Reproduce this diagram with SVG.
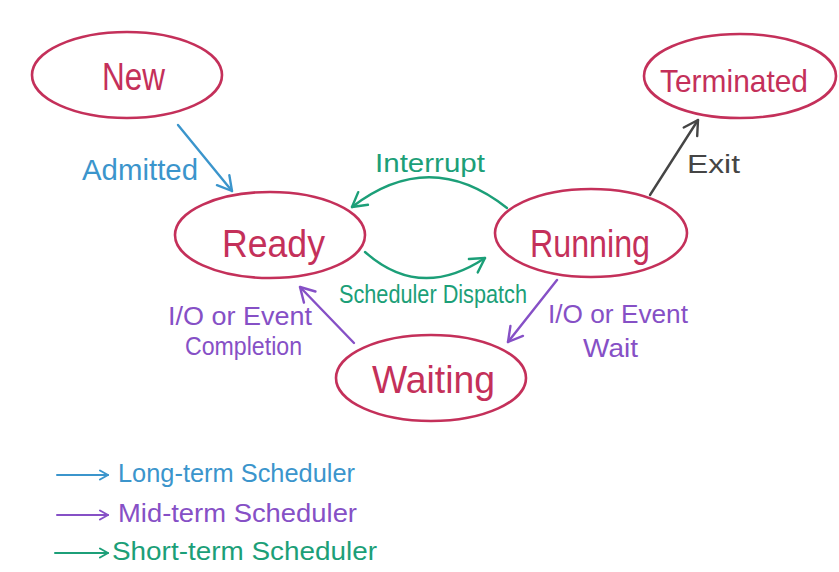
<svg xmlns="http://www.w3.org/2000/svg" width="839" height="572" viewBox="0 0 839 572">
<style>
text{font-family:"Liberation Sans","Open Sans",Arial,sans-serif}
.st{fill:none;stroke:#c4305a;stroke-width:2.6}
.sl{fill:#c4305a;font-size:38px}
.c{fill:none;stroke-width:2.4;stroke-linecap:round}
.blue{stroke:#3b95cc}.purple{stroke:#8650c6}.green{stroke:#1c9f78}.gray{stroke:#454545}
.tb{fill:#3b95cc}.tp{fill:#8650c6}.tg{fill:#1c9f78}.tk{fill:#454545}
.lab{font-size:26px}
</style>
<defs>
<marker id="ab" viewBox="0 0 20 20" refX="18" refY="10" markerWidth="20" markerHeight="20" markerUnits="userSpaceOnUse" orient="auto"><path d="M4,2 L18,10 L4,18" fill="none" stroke="#3b95cc" stroke-width="2.4" stroke-linecap="round" stroke-linejoin="round"/></marker>
<marker id="ap" viewBox="0 0 20 20" refX="18" refY="10" markerWidth="20" markerHeight="20" markerUnits="userSpaceOnUse" orient="auto"><path d="M4,2 L18,10 L4,18" fill="none" stroke="#8650c6" stroke-width="2.4" stroke-linecap="round" stroke-linejoin="round"/></marker>
<marker id="ag" viewBox="0 0 20 20" refX="18" refY="10" markerWidth="20" markerHeight="20" markerUnits="userSpaceOnUse" orient="auto"><path d="M4,2 L18,10 L4,18" fill="none" stroke="#1c9f78" stroke-width="2.4" stroke-linecap="round" stroke-linejoin="round"/></marker>
<marker id="ak" viewBox="0 0 20 20" refX="18" refY="10" markerWidth="20" markerHeight="20" markerUnits="userSpaceOnUse" orient="auto"><path d="M4,2 L18,10 L4,18" fill="none" stroke="#454545" stroke-width="2.4" stroke-linecap="round" stroke-linejoin="round"/></marker>
<marker id="sb" viewBox="0 0 12 12" refX="11" refY="6" markerWidth="12" markerHeight="12" markerUnits="userSpaceOnUse" orient="auto"><path d="M3,1.5 L11,6 L3,10.5" fill="none" stroke="#3b95cc" stroke-width="2" stroke-linecap="round" stroke-linejoin="round"/></marker>
<marker id="sp" viewBox="0 0 12 12" refX="11" refY="6" markerWidth="12" markerHeight="12" markerUnits="userSpaceOnUse" orient="auto"><path d="M3,1.5 L11,6 L3,10.5" fill="none" stroke="#8650c6" stroke-width="2" stroke-linecap="round" stroke-linejoin="round"/></marker>
<marker id="sg" viewBox="0 0 12 12" refX="11" refY="6" markerWidth="12" markerHeight="12" markerUnits="userSpaceOnUse" orient="auto"><path d="M3,1.5 L11,6 L3,10.5" fill="none" stroke="#1c9f78" stroke-width="2" stroke-linecap="round" stroke-linejoin="round"/></marker>
</defs>
<rect width="839" height="572" fill="#ffffff"/>

<g id="new"><ellipse class="st" cx="127" cy="75" rx="95" ry="43"/><text class="sl" x="102" y="90" textLength="63" lengthAdjust="spacingAndGlyphs">New</text></g>
<g id="terminated"><ellipse class="st" cx="740" cy="76" rx="96" ry="42"/><text class="sl" x="660" y="92" font-size="32" style="font-size:32px" textLength="148" lengthAdjust="spacingAndGlyphs">Terminated</text></g>
<g id="ready"><ellipse class="st" cx="270" cy="235" rx="95" ry="43"/><text class="sl" x="222" y="257" textLength="103" lengthAdjust="spacingAndGlyphs">Ready</text></g>
<g id="running"><ellipse class="st" cx="591" cy="233" rx="96" ry="44"/><text class="sl" x="530" y="257" textLength="120" lengthAdjust="spacingAndGlyphs">Running</text></g>
<g id="waiting"><ellipse class="st" cx="431" cy="378" rx="95" ry="43"/><text class="sl" x="372" y="393" textLength="123" lengthAdjust="spacingAndGlyphs">Waiting</text></g>

<g id="connectors">
<path class="c blue" d="M178,125 L232,191" marker-end="url(#ab)"/>
<path class="c green" d="M507,208 Q430,147 352,207" marker-end="url(#ag)"/>
<path class="c green" d="M365,252 Q420,301 485,258" marker-end="url(#ag)"/>
<path class="c gray" d="M650,195 L698,120" marker-end="url(#ak)"/>
<path class="c purple" d="M557,280 L508,342" marker-end="url(#ap)"/>
<path class="c purple" d="M354,343 L300,287" marker-end="url(#ap)"/>
</g>

<g id="labels">
<text class="lab tb" x="82" y="180" style="font-size:30px" textLength="116" lengthAdjust="spacingAndGlyphs">Admitted</text>
<text class="lab tg" x="375" y="172" textLength="110" lengthAdjust="spacingAndGlyphs">Interrupt</text>
<text class="lab tg" x="339" y="303" textLength="188" lengthAdjust="spacingAndGlyphs">Scheduler Dispatch</text>
<text class="lab tk" x="687" y="173" textLength="53" lengthAdjust="spacingAndGlyphs">Exit</text>
<text class="lab tp" x="548" y="323" textLength="140" lengthAdjust="spacingAndGlyphs">I/O or Event</text>
<text class="lab tp" x="583" y="357" textLength="55" lengthAdjust="spacingAndGlyphs">Wait</text>
<text class="lab tp" x="168" y="325" textLength="144" lengthAdjust="spacingAndGlyphs">I/O or Event</text>
<text class="lab tp" x="185" y="355" textLength="117" lengthAdjust="spacingAndGlyphs">Completion</text>
</g>

<g id="legend">
<path class="c blue" style="stroke-width:2" d="M57,475 L108,475" marker-end="url(#sb)"/>
<text class="lab tb" x="118" y="482" textLength="237" lengthAdjust="spacingAndGlyphs">Long-term Scheduler</text>
<path class="c purple" style="stroke-width:2" d="M57,515 L108,515" marker-end="url(#sp)"/>
<text class="lab tp" x="118" y="522" textLength="239" lengthAdjust="spacingAndGlyphs">Mid-term Scheduler</text>
<path class="c green" style="stroke-width:2" d="M55,553 L108,553" marker-end="url(#sg)"/>
<text class="lab tg" x="112" y="560" textLength="265" lengthAdjust="spacingAndGlyphs">Short-term Scheduler</text>
</g>
</svg>
